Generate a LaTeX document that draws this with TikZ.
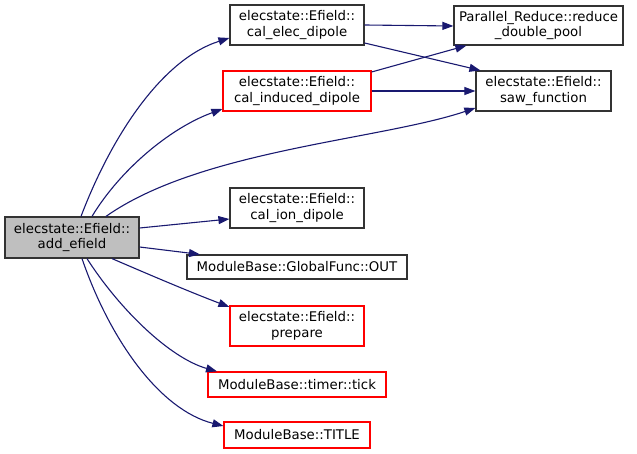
\documentclass[tikz,border=0pt]{standalone}
\usepackage{fontspec}
\setmainfont{DejaVu Sans}
\usepackage{xcolor}
\usetikzlibrary{arrows.meta}
\definecolor{edgeblue}{RGB}{25,25,112}
\definecolor{boxgray}{RGB}{191,191,191}

\begin{document}
\begin{tikzpicture}[x=1pt, y=-1pt,
    fnbox/.style={draw=black!80, line width=1.2pt, inner sep=0pt, align=center,
        font=\fontsize{13.3}{15.5}\selectfont, minimum height=40pt, minimum width=134pt},
    trunc/.style={fnbox, draw=red},
    call/.style={draw=edgeblue, line width=1.1pt, -{Triangle[length=11pt,width=8pt]}}]
    \useasboundingbox (0, 0) rectangle (637, 454);

    % caller
    \node[fnbox, fill=boxgray, minimum height=41pt] (ae) at (72, 237.5) {elecstate::Efield::\\add\_efield};

    % callees
    \node[fnbox] (ce) at (297, 25) {elecstate::Efield::\\cal\_elec\_dipole};
    \node[trunc, minimum width=148pt] (ci) at (297, 91) {elecstate::Efield::\\cal\_induced\_dipole};
    \node[fnbox] (cion) at (297, 208) {elecstate::Efield::\\cal\_ion\_dipole};
    \node[fnbox, minimum width=220pt, minimum height=24pt] (out) at (297, 267) {ModuleBase::GlobalFunc::OUT};
    \node[trunc] (prep) at (297, 326) {elecstate::Efield::\\prepare};
    \node[trunc, minimum width=178pt, minimum height=25pt] (tick) at (297, 384.5) {ModuleBase::timer::tick};
    \node[trunc, minimum width=146pt, minimum height=26pt] (title) at (297, 435) {ModuleBase::TITLE};

    \node[fnbox, minimum width=169pt, minimum height=39pt] (pr) at (538.5, 25.5) {Parallel\_Reduce::reduce\\\_double\_pool};
    \node[fnbox, minimum width=135pt] (saw) at (543.5, 91) {elecstate::Efield::\\saw\_function};

    % calls from add_efield
    \draw[call] ([xshift=9pt]ae.north) .. controls (110, 140) and (160, 60) .. ([yshift=-13pt]ce.west);
    \draw[call] ([xshift=20pt]ae.north) .. controls (120, 170) and (170, 128) .. ([yshift=-18pt]ci.west);
    \draw[call] ([xshift=34pt]ae.north) .. controls (200, 150) and (380, 140) .. ([yshift=-17pt]saw.west);
    \draw[call] ([yshift=9.5pt]ae.east) -- ([yshift=-11pt]cion.west);
    \draw[call] ([yshift=-9.5pt]ae.east) -- ([xshift=-97pt]out.north);
    \draw[call] ([xshift=40pt]ae.south) .. controls (150, 275) and (190, 292) .. ([yshift=19pt]prep.west);
    \draw[call] ([xshift=15pt]ae.south) .. controls (120, 310) and (170, 358) .. ([xshift=-80pt]tick.north);
    \draw[call] ([xshift=10pt]ae.south) .. controls (110, 340) and (160, 410) .. ([yshift=9pt]title.west);

    % calls from the dipole functions
    \draw[call] (ce.east) -- ([yshift=-0.5pt]pr.west);
    \draw[call] ([yshift=-18pt]ce.east) -- ([xshift=5pt]saw.north west);
    \draw[call] ([yshift=19pt]ci.east) -- ([xshift=13pt]pr.south west);
    \draw[call] (ci.east) -- (saw.west);
\end{tikzpicture}
\end{document}
